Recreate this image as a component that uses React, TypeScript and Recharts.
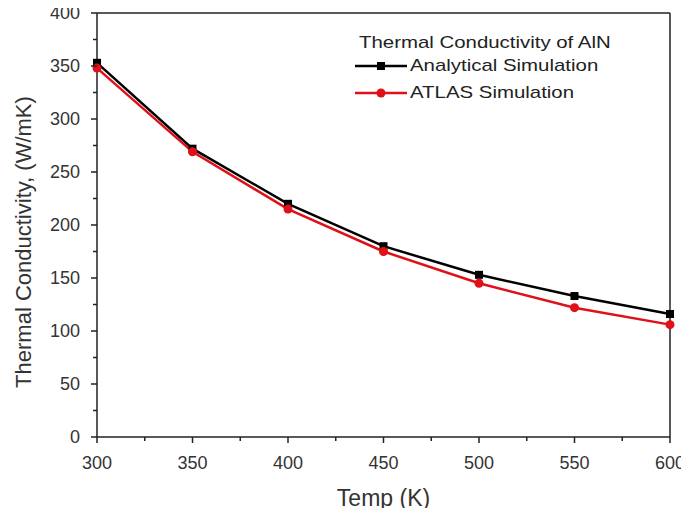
import { Label, Line, LineChart, ReferenceLine, XAxis, YAxis } from 'recharts';

const temps = [300, 350, 400, 450, 500, 550, 600];
const analytical = [353, 272, 220, 180, 153, 133, 116];
const atlas = [348, 269, 215, 175, 145, 122, 106];

const xTicks = [300, 325, 350, 375, 400, 425, 450, 475, 500, 525, 550, 575, 600];
const yTicks = [0, 25, 50, 75, 100, 125, 150, 175, 200, 225, 250, 275, 300, 325, 350, 375, 400];

const legendTitle = 'Thermal Conductivity of AlN';
const seriesNames = ['Analytical Simulation', 'ATLAS Simulation'];

const data = temps.map((t, i) => ({ t, analytical: analytical[i], atlas: atlas[i] }));

const AXIS = '#222';
const RED = '#e01018';
const FONT = 'Liberation Sans, Arial, sans-serif';

function XTick({ x, y, payload }: any) {
  const major = payload.value % 50 === 0;
  return (
    <g>
      <line x1={x} x2={x} y1={y} y2={y + (major ? 6 : 4)} stroke={AXIS} strokeWidth={1.5} />
      {major && (
        <text x={x} y={y + 32} textAnchor="middle" fontSize={18} fill="#333" fontFamily={FONT}>
          {payload.value}
        </text>
      )}
    </g>
  );
}

function YTick({ x, y, payload }: any) {
  const major = payload.value % 50 === 0;
  return (
    <g>
      <line x1={x} x2={x - (major ? 6 : 4)} y1={y} y2={y} stroke={AXIS} strokeWidth={1.5} />
      {major && (
        <text x={x - 17} y={y} dy="0.35em" textAnchor="end" fontSize={18} fill="#333" fontFamily={FONT}>
          {payload.value}
        </text>
      )}
    </g>
  );
}

function XTitle({ viewBox }: any) {
  const cx = viewBox.x + viewBox.width / 2;
  return (
    <text x={cx} y={viewBox.y + 61} dy="0.35em" textAnchor="middle" fontSize={23} fill="#333" fontFamily={FONT}>
      Temp (K)
    </text>
  );
}

function YTitle() {
  return (
    <text
      x={23}
      y={242}
      dy="0.35em"
      textAnchor="middle"
      transform="rotate(-90 23 242)"
      fontSize={22}
      fill="#333"
      fontFamily={FONT}
    >
      Thermal Conductivity, (W/mK)
    </text>
  );
}

function Square({ cx, cy }: any) {
  return <rect x={cx - 4} y={cy - 4} width={8} height={8} fill="#000" />;
}

function LegendBox() {
  const rows = [
    { label: seriesNames[0], color: '#000', square: true, cy: 66 },
    { label: seriesNames[1], color: RED, square: false, cy: 93 },
  ];
  const text = {
    fontFamily: FONT,
    fontSize: 17,
    color: '#222',
    lineHeight: '20px',
    whiteSpace: 'nowrap' as const,
    transform: 'scaleX(1.2)',
    transformOrigin: 'left center',
    position: 'absolute' as const,
  };
  return (
    <>
      <div style={{ ...text, left: 359, top: 33 }}>{legendTitle}</div>
      {rows.map((r) => (
        <div key={r.label}>
          <svg width={52} height={12} style={{ position: 'absolute', left: 355, top: r.cy - 6 }}>
            <line x1={0} x2={52} y1={6} y2={6} stroke={r.color} strokeWidth={2.5} />
            {r.square ? (
              <rect x={22} y={2} width={8} height={8} fill={r.color} />
            ) : (
              <circle cx={26} cy={6} r={4.5} fill={r.color} />
            )}
          </svg>
          <div style={{ ...text, left: 410, top: r.cy - 10 }}>{r.label}</div>
        </div>
      ))}
    </>
  );
}

export default function App() {
  return (
    <div style={{ position: 'relative', margin: -8, width: 689, height: 516, background: '#fff' }}>
      <LineChart
        width={689}
        height={516}
        data={data}
        margin={{ top: 13, right: 19, bottom: 49, left: 47 }}
      >
        <XAxis
          dataKey="t"
          type="number"
          domain={[300, 600]}
          ticks={xTicks}
          interval={0}
          tickSize={0}
          tickMargin={0}
          tickLine={false}
          tick={<XTick />}
          axisLine={{ stroke: AXIS, strokeWidth: 1.5 }}
          height={30}
        >
          <Label content={XTitle} />
        </XAxis>
        <YAxis
          type="number"
          domain={[0, 400]}
          ticks={yTicks}
          interval={0}
          tickSize={0}
          tickMargin={0}
          tickLine={false}
          tick={<YTick />}
          axisLine={{ stroke: AXIS, strokeWidth: 1.5 }}
          width={50}
        >
          <Label content={YTitle} />
        </YAxis>
        <ReferenceLine y={400} stroke={AXIS} strokeWidth={1.5} />
        <ReferenceLine x={600} stroke={AXIS} strokeWidth={1.5} />
        <Line
          dataKey="analytical"
          stroke="#000"
          strokeWidth={2.5}
          dot={<Square />}
          isAnimationActive={false}
        />
        <Line
          dataKey="atlas"
          stroke={RED}
          strokeWidth={2.5}
          dot={{ r: 4.5, fill: RED, stroke: RED, strokeWidth: 0 }}
          isAnimationActive={false}
        />
      </LineChart>
      <LegendBox />
    </div>
  );
}
